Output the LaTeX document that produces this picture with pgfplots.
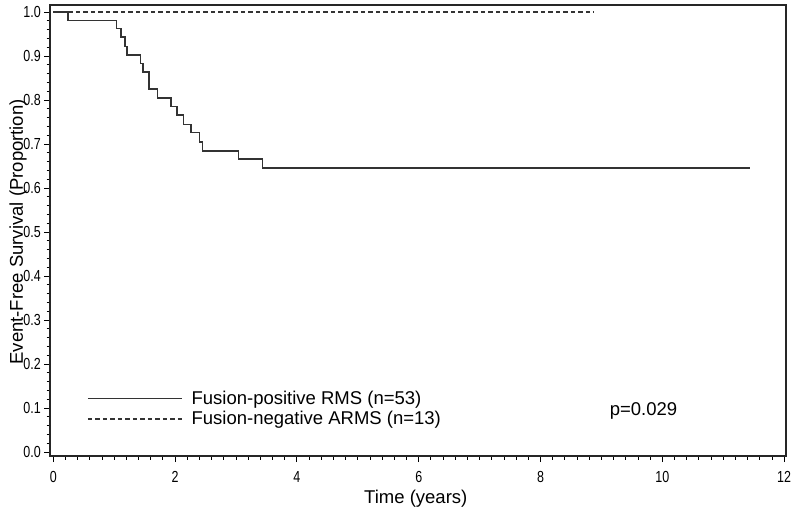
\documentclass[border=0pt]{standalone}
\usepackage{pgfplots}
\pgfplotsset{compat=1.18}
\usepackage{fontspec}
\setmainfont{Liberation Sans}
\newfontfamily\ticknarrow[FakeStretch=0.78]{Liberation Sans}
\newcommand\tickfont{\ticknarrow\fontsize{16}{17}\selectfont}
\begin{document}
\begin{tikzpicture}[x=1pt,y=1pt]
\useasboundingbox (0,0) rectangle (800,515);
\begin{axis}[
  at={(50pt,59pt)}, anchor=south west,
  scale only axis, width=736pt, height=451pt,
  xmin=-0.054, xmax=12.03, ymin=-0.009, ymax=1.016,
  axis line style={line width=1.3pt, black!85},
  xtick={0,2,4,6,8,10,12}, minor x tick num=9,
  xticklabels={0,2,4,6,8,10,12},
  ytick={0,0.1,0.2,0.3,0.4,0.5,0.6,0.7,0.8,0.9,1.0}, minor y tick num=4,
  yticklabels={0.0,0.1,0.2,0.3,0.4,0.5,0.6,0.7,0.8,0.9,1.0},
  xtick pos=bottom, ytick pos=left,
  tick align=outside,
  major tick length=6pt, minor tick length=3.5pt,
  every tick/.style={black, line width=0.9pt},
  xticklabel style={font=\tickfont, inner sep=0pt, anchor=north, yshift=-9pt},
  yticklabel style={font=\tickfont, inner sep=0pt, anchor=east, xshift=-3pt},
  xlabel={Time (years)},
  ylabel={Event-Free Survival (Proportion)},
  xlabel style={font=\fontsize{18.5}{20}\selectfont, at={(axis description cs:0.497,-0.095)}, anchor=center},
  ylabel style={font=\fontsize{18.5}{20}\selectfont, at={(axis description cs:-0.0435,0.497)}, anchor=center},
  legend image code/.code={\draw[#1] (0pt,0pt) -- (94pt,0pt);},
  legend style={draw=none, fill=none, at={(axis cs:0.553,0.139)}, anchor=north west,
    font=\fontsize{18.5}{20}\selectfont, inner sep=0pt, row sep=5.6pt, column sep=9pt,
    cells={anchor=west}, nodes={inner sep=0pt}},
  legend cell align=left,
  clip=false,
]
\addplot[const plot, line width=1.4pt, black!80] coordinates {
(0,1) (0.24,0.981) (1.04,0.962) (1.11,0.943) (1.18,0.922) (1.21,0.902)
(1.43,0.883) (1.47,0.864) (1.57,0.825) (1.71,0.805) (1.93,0.785)
(2.03,0.766) (2.14,0.745) (2.26,0.726) (2.40,0.705) (2.45,0.684)
(3.04,0.666) (3.43,0.646) (11.44,0.646)
};
\addlegendentry{Fusion-positive RMS (n=53)}
\addplot[const plot, line width=1.1pt, black!80, dash pattern=on 4.5pt off 3pt] coordinates {
(0,1) (8.88,1)
};
\addlegendentry{Fusion-negative ARMS (n=13)}
\node[font=\fontsize{18.5}{20}\selectfont, anchor=base, inner sep=0pt] at (axis cs:9.69,0.083) {p=0.029};
\end{axis}
\end{tikzpicture}
\end{document}
